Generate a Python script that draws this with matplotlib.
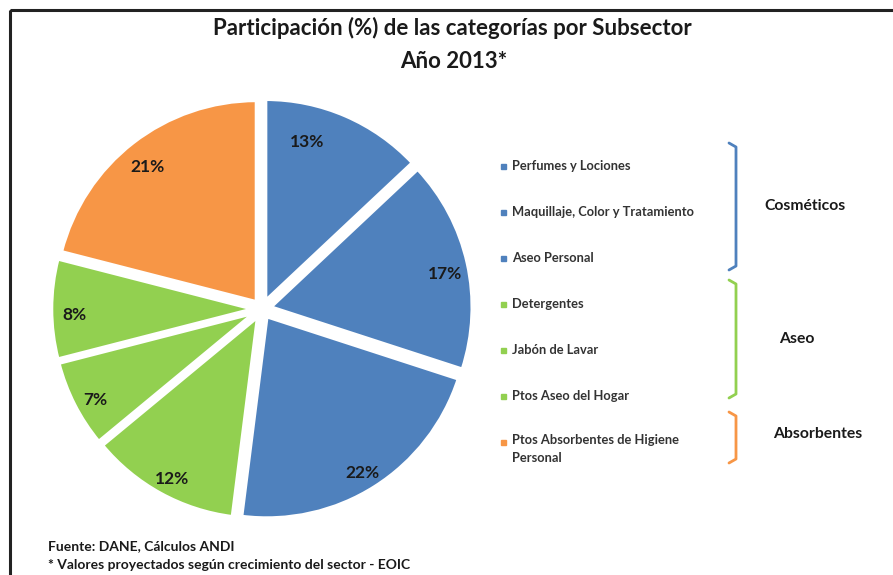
import numpy as np
import matplotlib.pyplot as plt
from matplotlib.patches import Rectangle

# datos (sentido horario desde las 12)
categorias = ['Perfumes y Lociones', 'Maquillaje, Color y Tratamiento', 'Aseo Personal',
              'Detergentes', 'Jabón de Lavar', 'Ptos Aseo del Hogar',
              'Ptos Absorbentes de Higiene\nPersonal']
valores = [13, 17, 22, 12, 7, 8, 21]
subsector = ['Cosméticos', 'Cosméticos', 'Cosméticos', 'Aseo', 'Aseo', 'Aseo', 'Absorbentes']
grupos = ['Cosméticos', 'Aseo', 'Absorbentes']

colores_grupo = {'Cosméticos': '#4F81BD', 'Aseo': '#92D050', 'Absorbentes': '#F79646'}
colores = [colores_grupo[s] for s in subsector]

plt.rcParams['font.family'] = ['Lato', 'DejaVu Sans']

W, H = 893, 575
fig = plt.figure(figsize=(W / 100, H / 100), dpi=100)

# capa en píxeles para marco, textos y corchetes
ov = fig.add_axes([0, 0, 1, 1])
ov.set_xlim(0, W)
ov.set_ylim(H, 0)
ov.axis('off')
ov.add_patch(Rectangle((10, 10), W + 20, H + 20, fill=False, lw=2.2, ec='#222222', clip_on=False))

ov.text(452, 28, 'Participación (%) de las categorías por Subsector', ha='center', va='center',
        fontsize=16, fontweight='bold', color='#1a1a1a')
ov.text(454, 62, 'Año 2013*', ha='center', va='center', fontsize=16, fontweight='bold', color='#1a1a1a')

# pastel
cx, cy, half = 262, 309, 217.5
ax = fig.add_axes([(cx - half) / W, 1 - (cy + half) / H, 2 * half / W, 2 * half / H])
wedges, textos, autotextos = ax.pie(
    valores, colors=colores, startangle=90, counterclock=False,
    explode=[0.045] * len(valores), radius=1,
    autopct='%.0f%%', pctdistance=0.84,
    textprops=dict(fontsize=12.5, fontweight='bold', color='#1a1a1a'),
    wedgeprops=dict(edgecolor='white', linewidth=2.5))
ax.set_xlim(-1.08, 1.08)
ax.set_ylim(-1.08, 1.08)
ax.set_aspect('equal')

# la etiqueta del 13% va más cerca del borde izquierdo de su porción
ang = np.deg2rad(15)
autotextos[0].set_position((0.86 * np.sin(ang), 0.86 * np.cos(ang)))
for t in autotextos[1:]:
    x, y = t.get_position()
    t.set_position((x * 1.05, y * 1.05 - 0.03))

# leyenda manual
y0, dy = 166, 46
for i, (cat, col) in enumerate(zip(categorias, colores)):
    y = y0 + dy * i
    ov.add_patch(Rectangle((501, y - 2.5), 5, 5, color=col))
    if '\n' in cat:
        ov.text(512, y - 7.5, cat, ha='left', va='top', fontsize=9.3, fontweight='bold',
                color='#333333', linespacing=1.6)
    else:
        ov.text(512, y, cat, ha='left', va='center', fontsize=9.3, fontweight='bold', color='#333333')

# corchetes por subsector
corchetes = [(143, 270), (280, 398), (412, 463)]
etiquetas_x = [805, 797, 818]
for g, (ya, yb), xl in zip(grupos, corchetes, etiquetas_x):
    c = colores_grupo[g]
    ov.plot([729, 736, 736, 729], [ya, ya + 4, yb - 4, yb], color=c, lw=2, solid_joinstyle='round',
            solid_capstyle='round')
    ov.text(xl, (ya + yb) / 2 + (0 if g != 'Absorbentes' else -4), g, ha='center', va='center',
            fontsize=11.3, fontweight='bold', color='#1a1a1a')

ov.text(48, 546, 'Fuente: DANE, Cálculos ANDI', ha='left', va='center', fontsize=10,
        fontweight='bold', color='#1a1a1a')
ov.text(48, 565, '* Valores proyectados según crecimiento del sector - EOIC', ha='left', va='center',
        fontsize=10, fontweight='bold', color='#1a1a1a')

fig.savefig('out.png', dpi=100)
